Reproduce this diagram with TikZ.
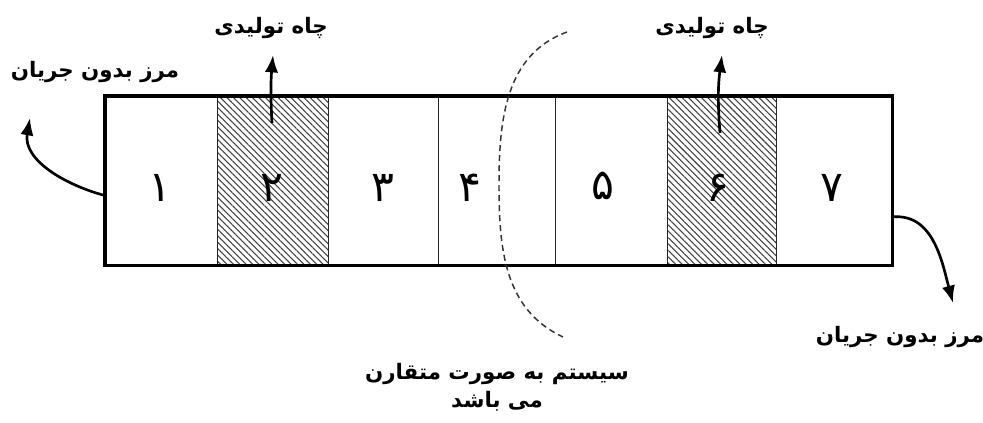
\documentclass[tikz,border=0pt]{standalone}
\usepackage{fontspec}
\usetikzlibrary{arrows.meta,patterns.meta}
\newfontfamily\arabicfont[Script=Arabic]{DejaVu Sans}
\TeXXeTstate=1
\begin{document}
\begin{tikzpicture}[x=0.75pt,y=-0.75pt,
  cell/.style={draw=black!85,line width=0.6pt,minimum height=126.75pt,inner sep=0pt,anchor=north west},
  hatch/.style={pattern={Lines[angle=-45,distance=3.4pt,line width=0.8pt]},pattern color=black!75},
  digit/.style={font=\arabicfont\fontsize{32}{36}\selectfont},
  lab/.style={font=\arabicfont\bfseries\fontsize{16}{21}\selectfont,align=center,inner sep=1pt},
  arr/.style={line width=2pt,-{Latex[length=13pt,width=10pt]}},
  sym/.style={dashed,dash pattern=on 4.5pt off 3pt,line width=1.1pt,black!80}]
\useasboundingbox (0,0) rectangle (983,422);
% cells
\node[cell,minimum width=84pt] (c1) at (105,96) {};
\node[cell,minimum width=83.25pt,hatch] (c2) at (217,96) {};
\node[cell,minimum width=82.5pt] (c3) at (328,96) {};
\node[cell,minimum width=87.75pt] (c4) at (438,96) {};
\node[cell,minimum width=84pt] (c5) at (555,96) {};
\node[cell,minimum width=81.75pt,hatch] (c6) at (667,96) {};
\node[cell,minimum width=87pt] (c7) at (776,96) {};
\draw[line width=2.4pt] (c1.north west) rectangle (c7.south east);
% digits
\node[digit] (n1) at (160,188) {\beginR ۱\endR};
\node[digit] (n2) at (272,188) {\beginR ۲\endR};
\node[digit] (n3) at (383,188) {\beginR ۳\endR};
\node[digit] (n4) at (470,188) {\beginR ۴\endR};
\node[digit] (n5) at (603,186) {\beginR ۵\endR};
\node[digit] (n6) at (718,188) {\beginR ۶\endR};
\node[digit] (n7) at (832,188) {\beginR ۷\endR};
% labels
\node[lab] (w1) at (271,28) {\beginR چاه تولیدی\endR};
\node[lab] (w2) at (712,28) {\beginR چاه تولیدی\endR};
\node[lab] (b1) at (95,72) {\beginR مرز بدون جریان\endR};
\node[lab] (b2) at (900,337) {\beginR مرز بدون جریان\endR};
\node[lab] (s1) at (497,387) {\beginR سیستم به صورت متقارن\endR\\\beginR می باشد\endR};
% arrow coordinates
\coordinate (t2) at (272,123);
\coordinate (h2) at (273,55);
\coordinate (t6) at (720,133);
\coordinate (h6) at (722,55);
\coordinate (hl) at (30,118);
\coordinate (hr) at (953,303);
\draw[arr] (t2) to[bend left=4] (h2);
\draw[arr] (t6) to[bend left=6] (h6);
\draw[arr] ([yshift=-11pt]c1.west) to[out=165,in=-100] (hl);
\draw[arr] ([yshift=-27pt]c7.east) to[out=5,in=105] (hr);
% symmetry line
\coordinate (d1) at (567,32);
\coordinate (d2) at (499,185);
\coordinate (d3) at (563,337);
\draw[sym] (d1) to[out=200,in=90] (d2) to[out=-90,in=155] (d3);
\end{tikzpicture}
\end{document}
